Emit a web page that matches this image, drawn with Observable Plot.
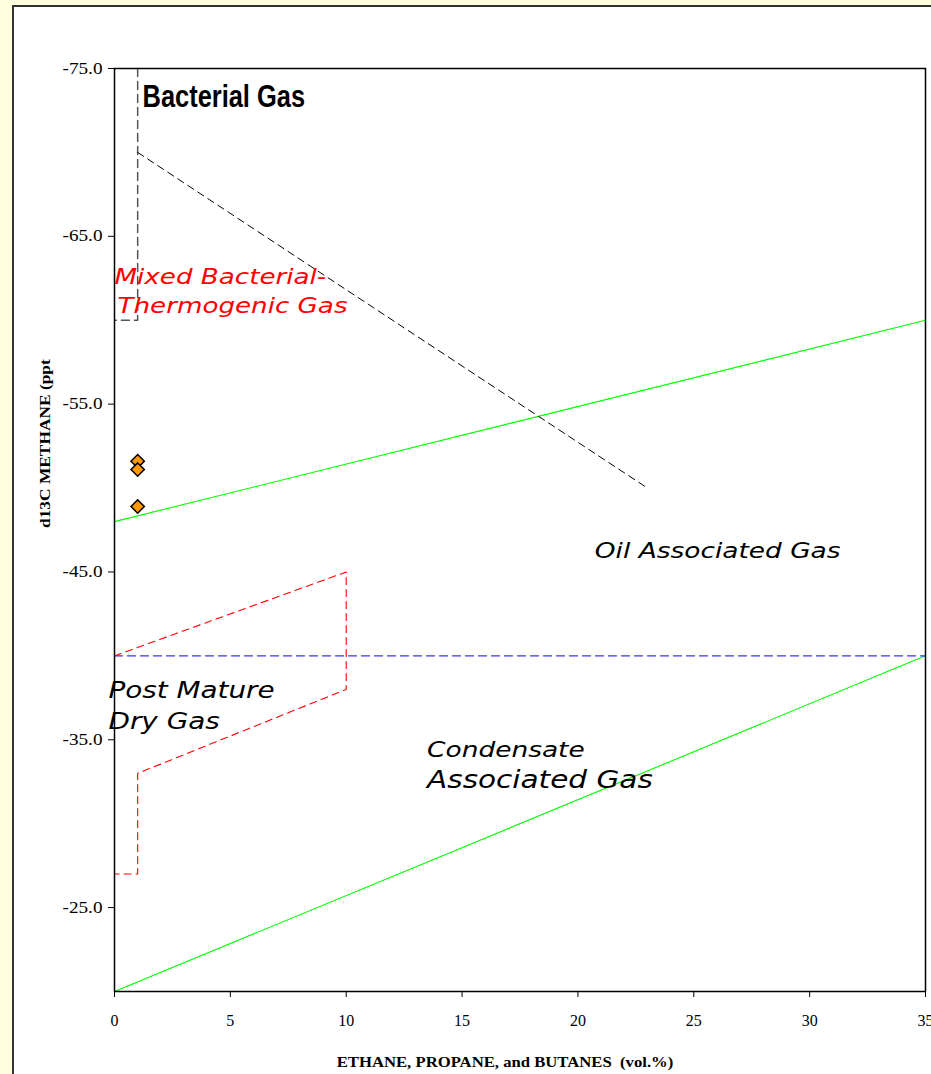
<!DOCTYPE html>
<html><head><meta charset="utf-8">
<script src="https://cdn.jsdelivr.net/npm/d3@7"></script>
<script src="https://cdn.jsdelivr.net/npm/@observablehq/plot@0.6"></script>
<style>
html,body{margin:0;padding:0;width:931px;height:1074px;overflow:hidden;background:#FFFFE0;}
#panel{position:absolute;left:12px;top:5px;width:1000px;height:1200px;background:#fff;border-left:2px solid #333;border-top:2px solid #333;}
#chart{position:absolute;left:0;top:0;}
</style></head><body>
<div id="panel"></div>
<div id="chart"></div>
<script>
// ---- data ----
const xTicks = [0, 5, 10, 15, 20, 25, 30, 35];
const yTicks = [-75, -65, -55, -45, -35, -25];
const xLabel = "ETHANE, PROPANE, and BUTANES  (vol.%)";
const yLabel = "d13C METHANE (ppt";

const sampleX = [1, 1, 1];
const sampleY = [-51.6, -51.1, -48.9];

const oilLineX = [0, 35], oilLineY = [-48, -60];
const condLineX = [0, 35], condLineY = [-20, -40];
const dryLineX = [0, 35], dryLineY = [-40, -40];
const postMatureX = [0, 10, 10, 1, 1, 0], postMatureY = [-40, -45, -38, -33, -27, -27];
const bactVertX = [1, 1, 0], bactVertY = [-75, -60, -60];
const bactDiagX = [1, 23], bactDiagY = [-70, -50];

const labelText = ["Bacterial Gas", "Mixed Bacterial-", "Thermogenic Gas", "Oil Associated Gas",
  "Post Mature", "Dry Gas", "Condensate", "Associated Gas"];
const labelX = [1.21, 0.0, 0.13, 20.73, -0.26, -0.26, 13.49, 13.49];
const labelY = [-72.68, -62.13, -60.46, -45.86, -37.51, -35.67, -34.0, -32.15];

// ---- helpers ----
const pts = (xs, ys) => xs.map((x, i) => ({x, y: ys[i]}));
const lab = idx => idx.map(i => ({x: labelX[i], y: labelY[i], t: labelText[i]}));

const plot = Plot.plot({
  width: 931, height: 1074,
  marginLeft: 114, marginRight: 6, marginTop: 68, marginBottom: 83,
  style: {background: "transparent", fontFamily: "Liberation Serif", fontSize: "16px", color: "#000", overflow: "visible"},
  x: {domain: [0, 35], label: null},
  y: {domain: [-20, -75], label: null},
  marks: [
    Plot.axisX({ticks: xTicks, tickFormat: d => String(d), tickSize: 6, tickPadding: 17, label: null, fontSize: 16, stroke: "#000", className: "ax-x"}),
    Plot.axisY({ticks: yTicks, tickFormat: d => d.toFixed(1), tickSize: 6, tickPadding: 6, label: null, fontSize: 16, stroke: "#000", className: "ax-y"}),
    Plot.line(pts(oilLineX, oilLineY), {x: "x", y: "y", stroke: "#00FF00", strokeWidth: 1.1}),
    Plot.line(pts(condLineX, condLineY), {x: "x", y: "y", stroke: "#00FF00", strokeWidth: 1.1}),
    Plot.line(pts(dryLineX, dryLineY), {x: "x", y: "y", stroke: "#3333FF", strokeWidth: 1.3, strokeDasharray: "8,5"}),
    Plot.line(pts(postMatureX, postMatureY), {x: "x", y: "y", stroke: "#FF0000", strokeWidth: 1.1, strokeDasharray: "7,5"}),
    Plot.line(pts(bactVertX, bactVertY), {x: "x", y: "y", stroke: "#555", strokeWidth: 1.5, strokeDasharray: "8,5"}),
    Plot.line(pts(bactDiagX, bactDiagY), {x: "x", y: "y", stroke: "#000", strokeWidth: 1, strokeDasharray: "7,5"}),
    Plot.frame({stroke: "#000", strokeWidth: 1.5}),
    Plot.dot(pts(sampleX, sampleY), {x: "x", y: "y", symbol: "diamond2", r: 6, fill: "#FF9900", stroke: "#000", strokeWidth: 1.5}),
    Plot.text(lab([0]), {x: "x", y: "y", text: "t", textAnchor: "start", lineAnchor: "bottom",
      fontFamily: "Liberation Sans", fontWeight: "bold", fontSize: 31, fill: "#000", className: "lbl-bact"}),
    Plot.text(lab([1, 2]), {x: "x", y: "y", text: "t", textAnchor: "start", lineAnchor: "bottom",
      fontFamily: "DejaVu Sans", fontStyle: "italic", fontSize: 21.8, fill: "#FF0000", className: "lbl-str"}),
    Plot.text(lab([3, 6]), {x: "x", y: "y", text: "t", textAnchor: "start", lineAnchor: "bottom",
      fontFamily: "DejaVu Sans", fontStyle: "italic", fontSize: 22, fill: "#000", className: "lbl-str"}),
    Plot.text(lab([4, 5]), {x: "x", y: "y", text: "t", textAnchor: "start", lineAnchor: "bottom",
      fontFamily: "DejaVu Sans", fontStyle: "italic", fontSize: 23.2, fill: "#000", className: "lbl-str"}),
    Plot.text(lab([7]), {x: "x", y: "y", text: "t", textAnchor: "start", lineAnchor: "bottom",
      fontFamily: "DejaVu Sans", fontStyle: "italic", fontSize: 24.6, fill: "#000", className: "lbl-str"}),
    Plot.text([xLabel], {text: d => d, frameAnchor: "bottom", dy: 71, dx: -15, lineAnchor: "middle",
      fontFamily: "Liberation Serif", fontWeight: "bold", fontSize: 14.5, fill: "#000", className: "lbl-x"}),
    Plot.text([yLabel], {text: d => d, frameAnchor: "left", dx: -69, dy: -2, rotate: -90, lineAnchor: "middle",
      fontFamily: "Liberation Serif", fontWeight: "bold", fontSize: 15.5, fill: "#000", className: "lbl-y"})
  ]
});
document.getElementById("chart").appendChild(plot);

// force tick label font size
plot.querySelectorAll('g[aria-label="x-axis tick label"], g[aria-label="y-axis tick label"]').forEach(g => {
  g.setAttribute("font-size", "16");
  g.setAttribute("font-family", "Liberation Serif");
  g.querySelectorAll("text").forEach(t => { t.setAttribute("font-size", "16"); });
});

// horizontal stretch of the chart's text, as in the reference
function stretch(sel, f) {
  plot.querySelectorAll(sel).forEach(t => {
    t.style.whiteSpace = "pre";
    const w = t.getComputedTextLength();
    t.setAttribute("textLength", (w * f).toFixed(1));
    t.setAttribute("lengthAdjust", "spacingAndGlyphs");
  });
}
stretch(".lbl-str text", 1.2);
stretch(".lbl-x text", 1.15);
stretch(".lbl-y text", 1.12);
stretch(".lbl-bact text", 0.82);
stretch('g[aria-label="y-axis tick label"] text', 1.2);
</script>
</body></html>
